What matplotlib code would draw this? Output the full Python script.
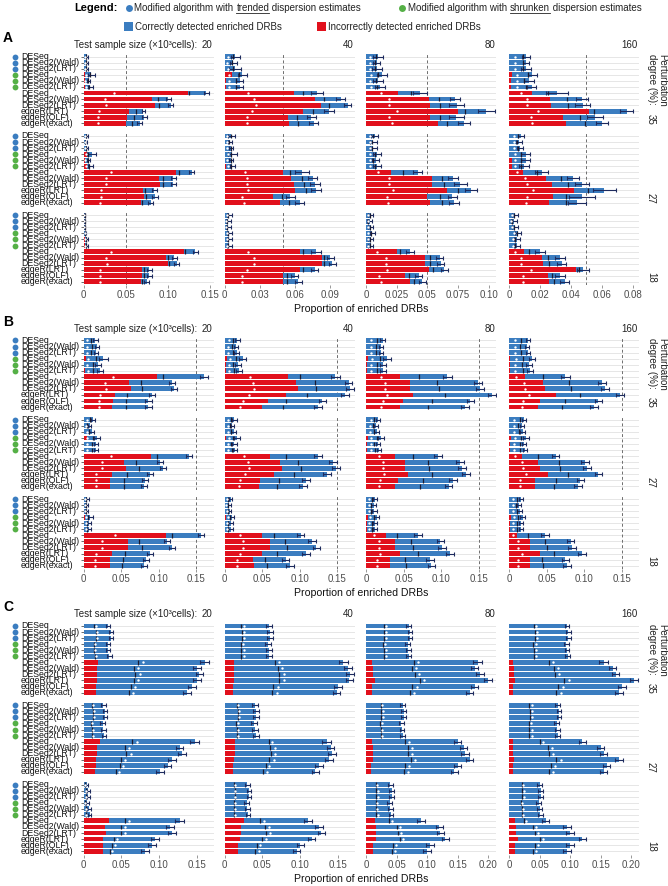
import numpy as np
import matplotlib
matplotlib.use("Agg")
import matplotlib.pyplot as plt
from matplotlib import transforms
from matplotlib.lines import Line2D
from matplotlib.patches import Rectangle

# ---------------------------------------------------------------------------
# data
# ---------------------------------------------------------------------------
methods = ["DESeq", "DESeq2(Wald)", "DESeq2(LRT)", "DESeq", "DESeq2(Wald)", "DESeq2(LRT)",
           "DESeq", "DESeq2(Wald)", "DESeq2(LRT)", "edgeR(LRT)", "edgeR(QLF)", "edgeR(exact)"]
modified = ["trended"] * 3 + ["shrunken"] * 3 + [None] * 6
sample_sizes = ["20", "40", "80", "160"]
degrees = ["35", "27", "18"]

# panel A : [degree][sample size][method]
A_RED = [
    [[0, 0, 0, .0015, .001, .002, .124, .082, .085, .054, .052, .050],
     [0, 0, 0, .006, .001, .001, .059, .077, .082, .067, .054, .055],
     [0, 0, 0, 0, 0, 0, .026, .051, .052, .075, .052, .059],
     [0, 0, 0, .0017, .0013, .0013, .0146, .0265, .027, .0516, .035, .037]],
    [[0, 0, 0, .0035, .001, .004, .110, .090, .091, .071, .072, .068],
     [0, 0, 0, 0, 0, .001, .050, .057, .059, .060, .041, .047],
     [0, 0, 0, 0, 0, 0, .020, .054, .054, .066, .050, .052],
     [0, 0, 0, 0, .0017, .0017, .0092, .024, .028, .042, .0286, .026]],
    [[0, 0, 0, 0, .002, .001, .119, .098, .100, .070, .070, .068],
     [0, 0, 0, 0, 0, 0, .0645, .083, .083, .064, .050, .050],
     [0, 0, 0, 0, 0, 0, .025, .048, .048, .051, .032, .036],
     [0, 0, 0, 0, 0, 0, .010, .021, .022, .043, .025, .026]],
]
A_TOT = [
    [[.004, .004, .004, .009, .006, .008, .146, .101, .104, .071, .072, .067],
     [.009, .0074, .009, .015, .013, .013, .079, .099, .105, .089, .074, .076],
     [.010, .0087, .0087, .0128, .010, .0114, .044, .0727, .074, .098, .0735, .080],
     [.011, .011, .011, .015, .013, .0146, .031, .047, .0475, .076, .0555, .060]],
    [[.0036, .003, .004, .0095, .006, .008, .129, .107, .107, .084, .085, .080],
     [.0055, .0046, .0055, .0066, .0055, .0066, .066, .075, .077, .078, .056, .064],
     [.007, .006, .006, .009, .008, .009, .042, .071, .077, .0855, .0705, .072],
     [.0075, .0065, .007, .0108, .0108, .0097, .021, .0415, .047, .0615, .047, .044]],
    [[.001, .001, .001, .002, .004, .004, .133, .108, .111, .078, .078, .075],
     [.004, .003, .003, .004, .004, .004, .078, .090, .092, .077, .060, .063],
     [.004, .003, .004, .005, .004, .004, .036, .060, .061, .064, .043, .046],
     [.004, .003, .004, .006, .005, .005, .020, .033, .034, .048, .033, .036]],
]
A_ERR = [
    [[.001, .001, .001, .004, .002, .003, .003, .003, .003, .002, .003, .003],
     [.004, .003, .005, .004, .003, .003, .005, .004, .003, .004, .004, .004],
     [.004, .003, .004, .004, .004, .004, .006, .004, .006, .007, .006, .005],
     [.0026, .002, .003, .003, .003, .003, .007, .004, .005, .004, .005, .004]],
    [[.001, .001, .001, .005, .002, .003, .003, .003, .003, .003, .003, .003],
     [.003, .002, .002, .004, .002, .002, .006, .004, .004, .004, .004, .004],
     [.003, .003, .003, .003, .003, .003, .004, .004, .005, .005, .004, .004],
     [.002, .002, .002, .003, .003, .003, .004, .004, .0045, .0075, .0085, .006]],
    [[.0005, .0005, .0005, .0005, .001, .001, .003, .003, .003, .003, .003, .003],
     [.002, .002, .002, .002, .002, .002, .004, .003, .003, .003, .003, .003],
     [.002, .002, .002, .002, .002, .002, .003, .003, .003, .003, .003, .003],
     [.002, .002, .002, .002, .002, .002, .003, .003, .003, .004, .003, .003]],
]
A_DOT = [
    [[.002, .002, .002, .003, .002, .003, .0365, .025, .026, .018, .0175, .0167],
     [.003, .002, .003, .004, .004, .004, .020, .025, .027, .023, .019, .019],
     [.003, .003, .003, .004, .003, .004, .012, .019, .019, .025, .019, .021],
     [.004, .004, .004, .005, .005, .005, .0077, .0118, .0118, .019, .014, .015]],
    [[.002, .002, .002, .003, .002, .003, .0325, .0266, .0266, .0206, .0206, .0198],
     [.002, .002, .002, .003, .002, .003, .017, .019, .019, .020, .0146, .0166],
     [.003, .003, .003, .003, .003, .003, .010, .019, .019, .022, .017, .018],
     [.003, .003, .003, .004, .004, .004, .0054, .0103, .0118, .0157, .0118, .011]],
    [[.0005, .0005, .0005, .001, .001, .001, .033, .027, .028, .020, .020, .019],
     [.002, .0015, .0015, .002, .002, .002, .020, .025, .025, .019, .015, .015],
     [.002, .0015, .002, .002, .002, .002, .009, .016, .016, .017, .011, .012],
     [.002, .0015, .002, .003, .0025, .0025, .004, .008, .008, .014, .009, .009]],
]
A_LINE = [
    [[.003, .003, .003, .007, .005, .006, .125, .089, .0897, .062, .060, .058],
     [.007, .006, .007, .012, .010, .010, .067, .085, .089, .075, .062, .063],
     [.008, .007, .007, .010, .008, .009, .0365, .0597, .060, .081, .060, .066],
     [.009, .009, .009, .012, .010, .011, .025, .0376, .038, .055, .046, .049]],
    [[.003, .002, .003, .005, .005, .006, .1135, .094, .094, .073, .074, .069],
     [.005, .004, .005, .005, .005, .005, .056, .066, .068, .069, .049, .0546],
     [.006, .005, .005, .007, .006, .007, .030, .062, .064, .075, .060, .062],
     [.006, .005, .006, .008, .008, .008, .018, .0335, .038, .0508, .037, .037]],
    [[.001, .001, .001, .0015, .003, .003, .121, .101, .102, .072, .072, .069],
     [.003, .002, .002, .003, .003, .003, .067, .085, .085, .067, .053, .053],
     [.003, .002, .003, .004, .003, .003, .028, .052, .052, .055, .035, .039],
     [.003, .002, .003, .005, .004, .004, .013, .025, .026, .045, .028, .029]],
]

# panel B
B_RED = [
    [[0, 0, 0, .0034, .001, .0022, .0974, .0605, .0627, .041, .0386, .038],
     [0, 0, 0, .003, .002, .002, .084, .095, .097, .081, .058, .049],
     [0, 0, 0, .002, .001, .001, .045, .058, .058, .063, .049, .045],
     [0, 0, 0, .001, .001, .001, .021, .045, .048, .062, .041, .039]],
    [[0, 0, 0, .005, .001, .001, .090, .053, .056, .038, .035, .035],
     [0, 0, 0, .002, .001, .001, .060, .074, .076, .065, .047, .045],
     [0, 0, 0, .002, .001, .001, .039, .052, .052, .056, .043, .039],
     [0, 0, 0, .002, .001, .001, .017, .039, .041, .052, .035, .034]],
    [[0, 0, 0, .002, .001, .001, .109, .059, .059, .038, .035, .035],
     [0, 0, 0, .002, .001, .001, .049, .060, .060, .049, .037, .039],
     [0, 0, 0, .002, .001, .001, .026, .039, .039, .045, .032, .032],
     [0, 0, 0, .002, .001, .001, .011, .028, .028, .041, .028, .028]],
]
B_TOT = [
    [[.0157, .0174, .0165, .0258, .0196, .0213, .160, .1176, .120, .0907, .0862, .086],
     [.017, .015, .016, .024, .018, .019, .147, .165, .167, .160, .130, .124],
     [.022, .020, .020, .028, .022, .023, .108, .149, .152, .168, .139, .132],
     [.025, .024, .025, .030, .027, .028, .075, .124, .128, .148, .119, .113]],
    [[.0123, .0078, .0106, .0174, .0165, .0165, .140, .102, .105, .088, .082, .080],
     [.013, .010, .012, .016, .013, .014, .124, .144, .148, .136, .108, .104],
     [.016, .013, .014, .020, .016, .017, .096, .125, .128, .133, .116, .110],
     [.020, .017, .018, .023, .020, .021, .062, .101, .104, .119, .095, .092]],
    [[.005, .004, .004, .009, .007, .007, .156, .111, .118, .088, .083, .080],
     [.008, .006, .007, .010, .008, .008, .101, .116, .122, .108, .081, .087],
     [.012, .010, .011, .014, .012, .012, .069, .099, .101, .112, .085, .087],
     [.016, .013, .014, .018, .016, .016, .048, .082, .084, .097, .075, .077]],
]
B_ERR = [
    [[.003, .003, .003, .006, .004, .004, .005, .004, .004, .004, .005, .005],
     [.003, .003, .003, .005, .004, .004, .006, .005, .005, .005, .005, .005],
     [.003, .003, .003, .005, .004, .004, .006, .005, .005, .005, .005, .005],
     [.003, .003, .003, .004, .004, .004, .006, .005, .005, .005, .005, .005]],
    [[.003, .002, .003, .004, .003, .003, .004, .004, .004, .004, .004, .004],
     [.003, .002, .003, .004, .003, .003, .005, .005, .005, .005, .005, .005],
     [.003, .003, .003, .004, .003, .003, .005, .005, .005, .005, .005, .005],
     [.003, .003, .003, .004, .003, .003, .005, .005, .005, .005, .005, .005]],
    [[.002, .002, .002, .003, .003, .003, .004, .004, .004, .004, .004, .004],
     [.002, .002, .002, .003, .003, .003, .005, .005, .005, .005, .005, .005],
     [.003, .003, .003, .003, .003, .003, .005, .005, .005, .005, .005, .005],
     [.003, .003, .003, .003, .003, .003, .005, .005, .005, .005, .005, .005]],
]
B_DOT = [
    [[.005, .005, .005, .006, .005, .006, .039, .029, .030, .022, .021, .021],
     [.006, .005, .005, .007, .006, .006, .034, .038, .039, .032, .024, .020],
     [.007, .006, .006, .008, .007, .007, .020, .025, .025, .028, .022, .020],
     [.008, .008, .008, .009, .008, .008, .009, .020, .021, .027, .018, .017]],
    [[.004, .003, .004, .005, .005, .005, .036, .024, .025, .017, .016, .016],
     [.005, .004, .005, .006, .005, .005, .026, .031, .032, .027, .020, .019],
     [.006, .005, .005, .007, .006, .006, .017, .022, .022, .024, .019, .017],
     [.007, .006, .006, .008, .007, .007, .008, .017, .018, .022, .015, .015]],
    [[.002, .002, .002, .003, .003, .003, .042, .024, .024, .016, .015, .015],
     [.003, .002, .003, .004, .003, .003, .020, .025, .025, .020, .016, .017],
     [.004, .004, .004, .005, .004, .004, .011, .017, .017, .019, .014, .014],
     [.005, .005, .005, .006, .005, .005, .005, .012, .012, .017, .012, .012]],
]
B_LINE = [
    [[.010, .011, .010, .016, .012, .013, .105, .076, .078, .057, .056, .056],
     [.011, .010, .011, .015, .011, .012, .100, .120, .122, .110, .082, .077],
     [.014, .013, .013, .018, .014, .015, .070, .095, .097, .105, .088, .083],
     [.016, .015, .016, .019, .017, .018, .045, .080, .083, .095, .075, .070]],
    [[.008, .005, .007, .012, .011, .011, .098, .070, .073, .058, .054, .053],
     [.009, .007, .008, .011, .009, .010, .082, .098, .101, .092, .072, .070],
     [.011, .009, .010, .014, .011, .012, .062, .082, .084, .088, .076, .072],
     [.014, .012, .013, .016, .014, .015, .038, .066, .068, .078, .062, .060]],
    [[.003, .003, .003, .006, .005, .005, .118, .074, .078, .055, .052, .051],
     [.005, .004, .005, .007, .005, .005, .066, .080, .083, .070, .053, .056],
     [.008, .007, .007, .010, .008, .008, .041, .060, .062, .069, .052, .053],
     [.011, .009, .010, .012, .011, .011, .025, .048, .050, .060, .044, .045]],
]

# panel C
C_RED = [
    [[0, 0, 0, 0, 0, 0, .019, .018, .018, .017, .016, .016],
     [0, 0, 0, 0, 0, 0, .012, .012, .012, .012, .011, .011],
     [0, 0, 0, 0, 0, 0, .010, .012, .012, .014, .010, .010],
     [0, 0, 0, 0, 0, 0, .006, .008, .008, .010, .007, .007]],
    [[0, 0, 0, 0, 0, 0, .021, .018, .018, .016, .016, .015],
     [0, 0, 0, 0, 0, 0, .014, .013, .013, .012, .011, .011],
     [0, 0, 0, 0, 0, 0, .010, .011, .011, .012, .009, .009],
     [0, 0, 0, 0, 0, 0, .006, .007, .007, .009, .006, .006]],
    [[0, 0, 0, 0, .001, .001, .034, .028, .029, .026, .025, .025],
     [0, 0, 0, 0, 0, 0, .025, .022, .022, .020, .018, .018],
     [0, 0, 0, 0, 0, 0, .015, .016, .016, .016, .012, .012],
     [0, 0, 0, 0, 0, 0, .010, .012, .012, .014, .010, .010]],
]
C_TOT = [
    [[.032, .036, .036, .032, .032, .034, .160, .150, .153, .150, .143, .137],
     [.058, .060, .060, .057, .058, .058, .157, .163, .166, .165, .150, .148],
     [.070, .072, .072, .068, .069, .070, .183, .178, .187, .200, .178, .170],
     [.095, .097, .097, .094, .095, .096, .155, .170, .175, .205, .185, .180]],
    [[.026, .028, .028, .025, .026, .027, .147, .127, .130, .117, .111, .101],
     [.040, .042, .042, .039, .040, .041, .135, .140, .142, .138, .125, .120],
     [.060, .062, .062, .058, .059, .060, .150, .160, .162, .170, .150, .145],
     [.080, .082, .082, .078, .079, .080, .120, .150, .155, .180, .160, .155]],
    [[.004, .006, .006, .005, .007, .008, .127, .114, .117, .094, .090, .081],
     [.030, .032, .032, .029, .030, .031, .110, .125, .128, .115, .100, .095],
     [.040, .042, .042, .039, .040, .041, .090, .120, .122, .130, .105, .100],
     [.050, .052, .052, .049, .050, .051, .060, .095, .100, .120, .100, .095]],
]
C_ERR = [
    [[.003, .003, .003, .003, .003, .003, .006, .005, .005, .005, .005, .005],
     [.004, .004, .004, .004, .004, .004, .006, .005, .005, .005, .005, .005],
     [.004, .004, .004, .004, .004, .004, .007, .006, .006, .006, .006, .006],
     [.004, .004, .004, .004, .004, .004, .007, .006, .006, .006, .006, .006]],
    [[.003, .003, .003, .003, .003, .003, .006, .005, .005, .005, .005, .005],
     [.004, .004, .004, .004, .004, .004, .006, .005, .005, .005, .005, .005],
     [.004, .004, .004, .004, .004, .004, .006, .006, .006, .006, .006, .006],
     [.004, .004, .004, .004, .004, .004, .006, .006, .006, .006, .006, .006]],
    [[.002, .002, .002, .002, .002, .002, .006, .005, .005, .005, .005, .005],
     [.003, .003, .003, .003, .003, .003, .005, .005, .005, .005, .005, .005],
     [.004, .004, .004, .004, .004, .004, .006, .006, .006, .006, .006, .006],
     [.004, .004, .004, .004, .004, .004, .006, .006, .006, .006, .006, .006]],
]
C_DOT = [
    [[.016, .017, .017, .015, .015, .016, .078, .072, .074, .072, .068, .065],
     [.025, .026, .026, .024, .025, .025, .072, .076, .078, .078, .070, .069],
     [.032, .033, .033, .031, .032, .032, .085, .082, .087, .095, .083, .078],
     [.045, .046, .046, .044, .045, .045, .072, .080, .082, .098, .088, .085]],
    [[.012, .013, .013, .011, .012, .012, .070, .060, .062, .055, .052, .047],
     [.018, .019, .019, .017, .018, .018, .063, .066, .067, .065, .059, .056],
     [.027, .028, .028, .026, .027, .027, .070, .075, .076, .080, .070, .068],
     [.037, .038, .038, .036, .037, .037, .056, .070, .072, .085, .075, .072]],
    [[.002, .003, .003, .002, .003, .003, .060, .054, .055, .044, .042, .038],
     [.013, .014, .014, .013, .013, .014, .052, .059, .060, .054, .047, .045],
     [.018, .019, .019, .018, .018, .019, .042, .056, .057, .061, .049, .047],
     [.023, .024, .024, .022, .023, .023, .028, .044, .047, .056, .047, .044]],
]
C_LINE = [
    [[.014, .016, .016, .014, .014, .015, .072, .066, .068, .066, .063, .060],
     [.022, .023, .023, .021, .022, .022, .066, .070, .072, .072, .064, .063],
     [.029, .030, .030, .028, .029, .029, .078, .075, .080, .088, .076, .072],
     [.041, .042, .042, .040, .041, .041, .066, .073, .075, .090, .080, .077]],
    [[.011, .012, .012, .010, .011, .011, .064, .055, .056, .050, .048, .043],
     [.016, .017, .017, .015, .016, .016, .058, .060, .061, .059, .054, .051],
     [.024, .025, .025, .023, .024, .024, .064, .068, .069, .073, .064, .062],
     [.033, .034, .034, .032, .033, .033, .051, .064, .066, .077, .068, .066]],
    [[.002, .003, .003, .002, .003, .003, .055, .049, .050, .040, .038, .035],
     [.012, .013, .013, .012, .012, .012, .047, .053, .055, .049, .043, .040],
     [.016, .017, .017, .016, .016, .017, .038, .051, .052, .055, .045, .043],
     [.021, .022, .022, .020, .021, .021, .025, .040, .042, .051, .042, .040]],
]

# axis settings per panel and sample size
A_TICKS = [[0, .05, .10, .15], [0, .03, .06, .09], [0, .025, .05, .075, .10], [0, .02, .04, .06, .08]]
A_TICKLABELS = [["0", "0.05", "0.10", "0.15"], ["0", "0.03", "0.06", "0.09"],
                ["0", "0.025", "0.05", "0.075", "0.10"], ["0", "0.02", "0.04", "0.06", "0.08"]]
A_XMAX = [0.155, 0.111, 0.106, 0.084]
B_TICKS = [[0, .05, .10, .15]] * 4
B_TICKLABELS = [["0", "0.05", "0.10", "0.15"]] * 4
B_XMAX = [0.173, 0.173, 0.173, 0.173]
C_TICKS = [[0, .05, .10, .15], [0, .05, .10, .15], [0, .05, .10, .15, .20], [0, .05, .10, .15, .20]]
C_TICKLABELS = [["0", "0.05", "0.10", "0.15"], ["0", "0.05", "0.10", "0.15"],
                ["0", "0.05", "0.10", "0.15", "0.20"], ["0", "0.05", "0.10", "0.15", "0.20"]]
C_XMAX = [0.172, 0.172, 0.213, 0.213]

# ---------------------------------------------------------------------------
# style
# ---------------------------------------------------------------------------
RED = "#E1101C"
BLUE = "#3B7DC0"
GREEN = "#55B046"
NAVY = "#1E2B5E"
DARK = "#1A1A30"
GRID = "#E6E6E6"
TXT = "#4D4D4D"

plt.rcParams["font.family"] = ["Liberation Sans", "DejaVu Sans"]
NARROW = ["Liberation Sans Narrow", "Liberation Sans", "DejaVu Sans"]

W, H = 668, 886
fig = plt.figure(figsize=(W / 100, H / 100), dpi=100)


def fx(x):
    return x / W


def fy(y):
    return 1 - y / H


COL_LEFT = [83.7, 224.7, 366.0, 509.0]
COL_W = 130.0
STEP = 6.05          # px per bar
ROW_PITCH = 79.3     # px between facet rows


def draw_facet(ax, red, tot, err, dot, line, xmax, ref):
    y = np.arange(len(methods))
    red = np.asarray(red, float)
    tot = np.asarray(tot, float)
    ax.hlines(y, 0, xmax, color=GRID, lw=0.7, zorder=0)
    if ref is not None:
        ax.axvline(ref, color="#6E6E6E", lw=0.7, ls=(0, (3, 2.5)), zorder=1)
    ax.barh(y, red, height=0.8, color=RED, lw=0, zorder=2)
    ax.barh(y, tot - red, left=red, height=0.8, color=BLUE, lw=0, zorder=2)
    ax.errorbar(tot, y, xerr=err, fmt="none", ecolor=NAVY, elinewidth=0.8,
                capsize=1.3, capthick=0.8, zorder=3)
    ax.vlines(line, y - 0.4, y + 0.4, color=DARK, lw=0.9, zorder=4)
    ax.scatter(dot, y, s=3, color="white", lw=0, zorder=5)
    ax.set_xlim(0, xmax)
    ax.set_ylim(11.6, -0.6)
    for s in ax.spines.values():
        s.set_visible(False)


def draw_panel(letter, first, red, tot, err, dot, line, ticks, ticklabels, xmax, ref):
    fig.text(fx(3), fy(first - 19), letter, fontsize=10, fontweight="bold", va="center", ha="left")
    fig.text(fx(74), fy(first - 12), "Test sample size (\u00d710\u00b3cells):", fontsize=7,
             color="#222222", va="center", ha="left")
    for c, size in enumerate(sample_sizes):
        fig.text(fx(COL_LEFT[c] + COL_W - 1), fy(first - 12), size, fontsize=7,
                 color="#222222", va="center", ha="right")
    for r in range(3):
        top = first + r * ROW_PITCH - 0.6 * STEP
        h = 12.2 * STEP
        for c in range(4):
            ax = fig.add_axes([fx(COL_LEFT[c]), fy(top + h), fx(COL_W), h / H])
            draw_facet(ax, red[r][c], tot[r][c], err[r][c], dot[r][c], line[r][c], xmax[c], ref)
            if c == 0:
                ax.set_yticks(range(12))
                ax.set_yticklabels([])
                ax.tick_params(axis="y", length=2.5, width=0.6, color="#555555", pad=1)
                blend = transforms.blended_transform_factory(fig.transFigure, ax.transData)
                for i, name in enumerate(methods):
                    ax.text(fx(21), i, name, transform=blend, fontsize=6.3, family=NARROW,
                            ha="left", va="center", clip_on=False, color="#111111")
                    if modified[i] is not None:
                        ax.plot([fx(15)], [i], "o", transform=blend, ms=4.2, mew=0,
                                color=BLUE if modified[i] == "trended" else GREEN, clip_on=False)
            else:
                ax.set_yticks([])
            if r == 2:
                ax.set_xticks(ticks[c])
                ax.set_xticklabels(ticklabels[c], fontsize=7, color=TXT)
                ax.tick_params(axis="x", length=2, width=0.6, color="#888888", pad=1.5)
            else:
                ax.set_xticks([])
        last = first + r * ROW_PITCH + 11 * STEP
        fig.text(fx(651), fy(last + 1), degrees[r], fontsize=7, rotation=270,
                 ha="center", va="bottom", color="#222222")
    fig.text(fx(657), fy(first - 2.5), "Perturbation\ndegree (%):", fontsize=7, rotation=270,
             ha="center", va="top", multialignment="left", color="#222222", linespacing=1.05)
    fig.text(fx(361), fy(first + 252.5), "Proportion of enriched DRBs", fontsize=7.6,
             ha="center", va="center", color="#111111")


draw_panel("A", 56.7, A_RED, A_TOT, A_ERR, A_DOT, A_LINE, A_TICKS, A_TICKLABELS, A_XMAX, 0.05)
draw_panel("B", 340.5, B_RED, B_TOT, B_ERR, B_DOT, B_LINE, B_TICKS, B_TICKLABELS, B_XMAX, 0.15)
draw_panel("C", 626.0, C_RED, C_TOT, C_ERR, C_DOT, C_LINE, C_TICKS, C_TICKLABELS, C_XMAX, None)

# ---------------------------------------------------------------------------
# legend at the top (with underlined words)
# ---------------------------------------------------------------------------
renderer = fig.canvas.get_renderer()


def rich_text(x_px, y_px, pieces, size=7):
    x = fx(x_px)
    for txt, under in pieces:
        t = fig.text(x, fy(y_px), txt, fontsize=size, ha="left", va="center", color="#222222")
        bb = t.get_window_extent(renderer)
        if under:
            fig.add_artist(Line2D([bb.x0 / W, bb.x1 / W], [fy(y_px + 5.2)] * 2,
                                  color="#222222", lw=0.6))
        x = bb.x1 / W


fig.text(fx(74), fy(8), "Legend:", fontsize=8, fontweight="bold", ha="left", va="center")
fig.add_artist(Line2D([fx(128.5)], [fy(8)], marker="o", ms=5, mew=0, color=BLUE))
rich_text(134.5, 8, [("Modified algorithm with ", False), ("trended", True),
                     (" dispersion estimates", False)])
fig.add_artist(Line2D([fx(402)], [fy(8)], marker="o", ms=5, mew=0, color=GREEN))
rich_text(408, 8, [("Modified algorithm with ", False), ("shrunken", True),
                   (" dispersion estimates", False)])
fig.add_artist(Rectangle((fx(124), fy(31)), 9 / W, 9 / H, color=BLUE, lw=0))
fig.text(fx(135), fy(26.5), "Correctly detected enriched DRBs", fontsize=7, ha="left", va="center",
         color="#222222")
fig.add_artist(Rectangle((fx(317), fy(31)), 9 / W, 9 / H, color=RED, lw=0))
fig.text(fx(328), fy(26.5), "Incorrectly detected enriched DRBs", fontsize=7, ha="left", va="center",
         color="#222222")

fig.savefig("out.png", dpi=100)
